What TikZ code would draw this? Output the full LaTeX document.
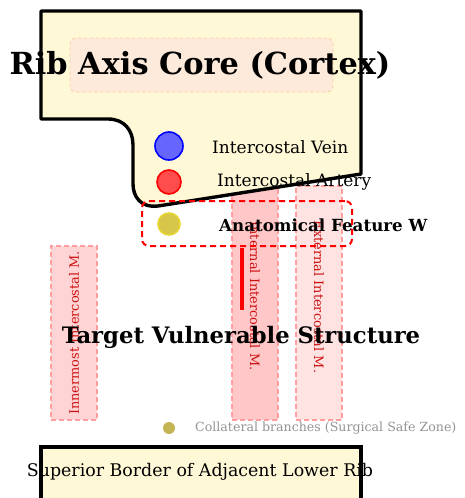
\documentclass[tikz,border=0pt]{standalone}
\usepackage{fontspec}
\setmainfont{DejaVu Serif}
\definecolor{ribfill}{HTML}{FFF8D6}
\definecolor{corefill}{HTML}{FDEADB}
\definecolor{coreline}{HTML}{FBCB9E}
\definecolor{musclebd}{HTML}{FF9E9E}
\definecolor{muscletx}{HTML}{CC1111}
\definecolor{veinfill}{HTML}{6666FF}
\definecolor{arteryfill}{HTML}{FF4D4D}
\definecolor{featfill}{HTML}{D6C64A}
\definecolor{featline}{HTML}{E8D630}
\definecolor{branchdot}{HTML}{C4B454}
\begin{document}
\begin{tikzpicture}[x=1pt, y=-1pt,
    muscle/.style = {draw=musclebd, dashed, dash pattern=on 5pt off 3pt, line width=1.6pt, minimum width=46pt, inner sep=0pt},
    muscletext/.style = {text=muscletx, font=\fontsize{12.9}{15}\selectfont, inner sep=0pt},
    vessel/.style = {circle, line width=1.6pt, inner sep=0pt},
    label/.style = {anchor=west, inner sep=0pt, font=\fontsize{17}{20}\selectfont}]
  \useasboundingbox (0,0) rectangle (464,498);
  % muscle layers
  \node[muscle, fill=red!17, minimum height=174pt] (innermost) at (74,333) {};
  \node[muscletext, rotate=90] (innermostT) at (74,333) {Innermost Intercostal M.};
  \node[muscle, fill=red!22, minimum height=234pt] (internal) at (255,303) {};
  \node[muscletext, rotate=-90] (internalT) at (255,296) {Internal Intercostal M.};
  \node[muscle, fill=red!11, minimum height=234pt] (external) at (319,303) {};
  \node[muscletext, rotate=-90] (externalT) at (319,297) {External Intercostal M.};
  % upper rib
  \draw[fill=ribfill, line width=3.4pt, line join=round]
    (41,11) -- (361,11) -- (361,174) -- (158,206)
    .. controls (140,208) and (133,196) .. (133,184) -- (133,145)
    .. controls (133,130) and (124,119) .. (108,119) -- (41,119) -- cycle;
  \node[draw=coreline, dashed, fill=corefill, rounded corners=6pt, line width=0.8pt,
        minimum width=263pt, minimum height=54pt] (core) at (201.5,65) {};
  \node[font=\bfseries\fontsize{30.4}{34}\selectfont, inner sep=0pt] (coreT) at (200,65) {Rib Axis Core (Cortex)};
  % vessels
  \node[vessel, draw=blue, fill=veinfill, minimum size=28pt] (vein) at (169,146) {};
  \node[label] (veinT) at (212,147) {Intercostal Vein};
  \node[vessel, draw=red, fill=arteryfill, minimum size=24pt] (artery) at (169,182) {};
  \node[label] (arteryT) at (217,182) {Intercostal Artery};
  \node[vessel, draw=featline, fill=featfill, minimum size=22pt] (feature) at (169,224) {};
  \node[label, font=\bfseries\fontsize{16.7}{19}\selectfont] (featureT) at (219,225) {Anatomical Feature W};
  \node[draw=red, dashed, dash pattern=on 6pt off 4pt, line width=2pt, rounded corners=7pt,
        minimum width=210pt, minimum height=45pt] (danger) at (247,223.5) {};
  % nerve
  \coordinate (nerveA) at (242,248);
  \coordinate (nerveB) at (242,310);
  \draw[red, line width=3.5pt] (nerveA) -- (nerveB);
  \node[font=\bfseries\fontsize{22.7}{26}\selectfont, inner sep=0pt] (target) at (241,337) {Target Vulnerable Structure};
  % collateral branches
  \node[circle, fill=branchdot, minimum size=12pt, inner sep=0pt] (branch) at (169,428) {};
  \node[label, text=gray!85, font=\fontsize{12.6}{15}\selectfont] (branchT) at (195,428) {Collateral branches (Surgical Safe Zone)};
  % lower rib
  \draw[fill=ribfill, line width=3.4pt] (41,505) -- (41,447) -- (361,447) -- (361,505);
  \node[inner sep=0pt, font=\fontsize{17.4}{20}\selectfont] (lowerT) at (200,472) {Superior Border of Adjacent Lower Rib};
\end{tikzpicture}
\end{document}
